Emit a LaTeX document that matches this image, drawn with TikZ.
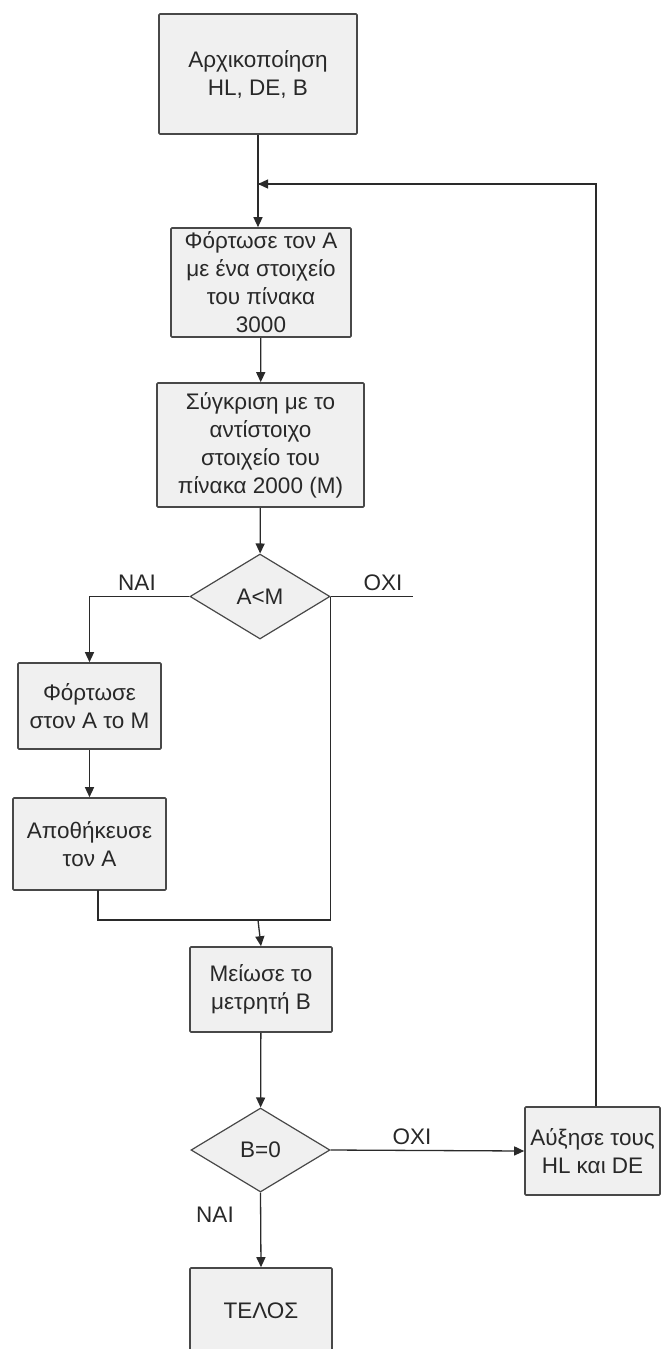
\documentclass[tikz,border=0pt]{standalone}
\usepackage{fontspec}
\setmainfont{Liberation Sans}
\usetikzlibrary{shapes.geometric,arrows.meta}
\definecolor{boxfill}{HTML}{F0F0F0}
\definecolor{boxline}{HTML}{484848}
\definecolor{txt}{HTML}{282828}
\definecolor{wire}{HTML}{2A2A2A}
\begin{document}
\begin{tikzpicture}[x=1pt,y=-1pt,
  every node/.style={font=\fontsize{22.5}{28}\selectfont, text=txt},
  procbox/.style={draw=boxline, line width=1.6pt, fill=boxfill, rectangle, rounded corners=1pt, inner sep=0pt, align=center},
  decbox/.style={draw=boxline, line width=1.2pt, fill=boxfill, diamond, inner sep=0pt, align=center},
  flow/.style={draw=wire, line width=1.3pt},
  arr/.style={flow, -{Triangle[length=10pt,width=9pt]}},
  lbl/.style={inner sep=0pt}
]
\useasboundingbox (0,0) rectangle (663,1349);
\node[procbox, minimum width=198pt, minimum height=120pt] (b1) at (258,74) {Αρχικοποίηση\\HL, DE, B};
\node[procbox, minimum width=180pt, minimum height=109pt] (b2) at (261,282.5) {Φόρτωσε τον Α\\με ένα στοιχείο\\του πίνακα\\3000};
\node[procbox, minimum width=207pt, minimum height=124pt] (b3) at (260.5,445) {Σύγκριση με το\\αντίστοιχο\\στοιχείο του\\πίνακα 2000 (M)};
\node[decbox, minimum width=140pt, minimum height=85pt] (d1) at (260,596.5) {A<M};
\node[procbox, minimum width=143pt, minimum height=86pt] (b4) at (89.5,706) {Φόρτωσε\\στον Α το Μ};
\node[procbox, minimum width=153pt, minimum height=92pt] (b5) at (89.5,844) {Αποθήκευσε\\τον Α};
\node[procbox, minimum width=142pt, minimum height=85pt] (b6) at (261,989.5) {Μείωσε το\\μετρητή Β};
\node[decbox, minimum width=139pt, minimum height=84pt] (d2) at (260.5,1150) {B=0};
\node[procbox, minimum width=135pt, minimum height=88pt] (b7) at (592.5,1151) {Αύξησε τους\\HL και DE};
\node[procbox, minimum width=142pt, minimum height=86pt] (b8) at (261,1311) {ΤΕΛΟΣ};

\node[lbl] (l1) at (137,583) {NAI};
\node[lbl] (l2) at (383,583) {OXI};
\node[lbl] (l3) at (412,1137) {OXI};
\node[lbl] (l4) at (215,1215) {NAI};

\coordinate (fb) at (258,184);
\coordinate (oxiend) at (413,596.5);
\coordinate (m) at (258,920);
\coordinate (b5out) at (98,890);

\draw[arr] (b1.south) -- (b1.south |- b2.north);
\draw[flow] ([xshift=3.5pt]b7.north) |- (fb);
\draw[arr] (fb) ++(90pt,0) -- (fb);
\draw[arr] (b2) -- (b3);
\draw[arr] (b3) -- (d1);
\draw[arr] (d1.west) -| (b4.north);
\draw[flow] (d1.east) -- (oxiend);
\draw[flow] (d1.east) |- (m);
\draw[flow] (b5out) |- (m);
\draw[arr] (m) -- (b6.north);
\draw[arr] (b4) -- (b5);
\draw[arr] (b6) -- (d2);
\draw[arr] (d2.east) -- (b7.west);
\draw[arr] (d2.south) -- (b8.north);
\end{tikzpicture}
\end{document}
